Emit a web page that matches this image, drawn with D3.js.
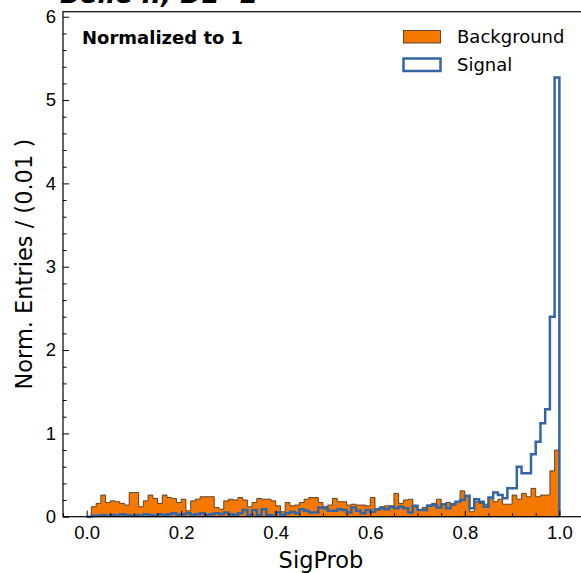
<!DOCTYPE html>
<html>
<head>
<meta charset="utf-8">
<script src="https://cdn.jsdelivr.net/npm/d3@7"></script>
<style>
  body { margin: 0; background: #fff; }
  svg { display: block; font-family: "DejaVu Sans", sans-serif; }
  .axis text { font-size: 18.5px; fill: #000; }
  .axis path, .axis line { stroke: #000; }
</style>
</head>
<body>
<svg id="chart"></svg>
<script>
// histogram bins: 100 bins of width 0.01 on [0, 1]
const binWidth = 0.01;
const background = [
  0.00, 0.12, 0.16, 0.26, 0.17, 0.19, 0.18, 0.16, 0.14, 0.29,
  0.29, 0.12, 0.19, 0.26, 0.22, 0.16, 0.26, 0.23, 0.22, 0.17,
  0.21, 0.07, 0.19, 0.21, 0.24, 0.24, 0.24, 0.11, 0.09, 0.19,
  0.21, 0.20, 0.23, 0.20, 0.12, 0.17, 0.22, 0.21, 0.21, 0.19,
  0.13, 0.06, 0.17, 0.13, 0.14, 0.17, 0.21, 0.23, 0.23, 0.17,
  0.12, 0.14, 0.22, 0.18, 0.18, 0.14, 0.15, 0.14, 0.14, 0.13,
  0.23, 0.08, 0.12, 0.13, 0.13, 0.28, 0.16, 0.20, 0.21, 0.12,
  0.08, 0.11, 0.14, 0.16, 0.21, 0.15, 0.17, 0.14, 0.18, 0.31,
  0.24, 0.06, 0.18, 0.16, 0.15, 0.23, 0.18, 0.21, 0.15, 0.15,
  0.26, 0.21, 0.28, 0.24, 0.34, 0.24, 0.26, 0.26, 0.55, 0.80
];
const signal = [
  0.00, 0.01, 0.01, 0.02, 0.01, 0.02, 0.01, 0.03, 0.02, 0.01,
  0.02, 0.01, 0.03, 0.02, 0.01, 0.03, 0.02, 0.03, 0.04, 0.02,
  0.03, 0.04, 0.02, 0.03, 0.04, 0.02, 0.03, 0.04, 0.03, 0.05,
  0.03, 0.02, 0.04, 0.08, 0.02, 0.08, 0.02, 0.09, 0.02, 0.01,
  0.05, 0.02, 0.04, 0.06, 0.04, 0.09, 0.07, 0.05, 0.05, 0.11,
  0.10, 0.07, 0.07, 0.09, 0.08, 0.05, 0.11, 0.07, 0.04, 0.08,
  0.06, 0.09, 0.10, 0.09, 0.12, 0.10, 0.12, 0.10, 0.05, 0.13,
  0.08, 0.08, 0.13, 0.14, 0.11, 0.15, 0.10, 0.15, 0.18, 0.20,
  0.25, 0.10, 0.21, 0.18, 0.12, 0.23, 0.29, 0.26, 0.22, 0.34,
  0.34, 0.60, 0.52, 0.52, 0.75, 0.90, 1.12, 1.29, 2.40, 5.27
];
const xMajorTicks = [0.0, 0.2, 0.4, 0.6, 0.8, 1.0];
const yMajorTicks = [0, 1, 2, 3, 4, 5, 6];
const legendItems = ['Background', 'Signal'];

const config = {
  width: 581,
  height: 573,
  margin: { top: 11.7, right: -2, bottom: 56.3, left: 63 },
  orange: '#f57900',
  blue: '#3465a4'
};

const innerW = config.width - config.margin.left - config.margin.right;
const innerH = config.height - config.margin.top - config.margin.bottom;

const svg = d3.select('#chart')
  .attr('width', config.width)
  .attr('height', config.height);

const chart = svg.append('g')
  .attr('transform', `translate(${config.margin.left},${config.margin.top})`);

const yMax = d3.max(signal) * 1.15;

const xScale = d3.scaleLinear().domain([-0.05, 1.05]).range([0, innerW]);
const yScale = d3.scaleLinear().domain([0, yMax]).range([innerH, 0]);

// turn bin values into step points
const stepPoints = vals => {
  const pts = [[0, 0]];
  vals.forEach((v, i) => {
    pts.push([i * binWidth, v]);
    pts.push([(i + 1) * binWidth, v]);
  });
  pts.push([vals.length * binWidth, 0]);
  return pts;
};

const area = d3.area()
  .x(d => xScale(d[0]))
  .y0(yScale(0))
  .y1(d => yScale(d[1]));

const line = d3.line()
  .x(d => xScale(d[0]))
  .y(d => yScale(d[1]));

chart.append('path')
  .attr('d', area(stepPoints(background)))
  .attr('fill', config.orange)
  .attr('stroke', '#3a2a1a')
  .attr('stroke-width', 0.8);

chart.append('path')
  .attr('d', line(stepPoints(signal)))
  .attr('fill', 'none')
  .attr('stroke', config.blue)
  .attr('stroke-width', 2.5)
  .attr('stroke-linejoin', 'miter');

// axes, ticks pointing inward
const xAxis = d3.axisBottom(xScale)
  .tickValues(xMajorTicks)
  .tickFormat(d3.format('.1f'))
  .tickSize(-6)
  .tickPadding(9);
const xMinor = d3.axisBottom(xScale)
  .tickValues(d3.range(-0.05, 1.051, 0.05).filter(v => Math.abs(Math.round(v * 5) - v * 5) > 0.01))
  .tickFormat('')
  .tickSize(-3.5);
const yAxis = d3.axisLeft(yScale)
  .tickValues(yMajorTicks)
  .tickFormat(d3.format('d'))
  .tickSize(-6)
  .tickPadding(7);
const yMinor = d3.axisLeft(yScale)
  .tickValues(d3.range(0.2, yMax, 0.2).filter(v => Math.abs(v - Math.round(v)) > 0.01))
  .tickFormat('')
  .tickSize(-3.5);

chart.append('g').attr('class', 'axis')
  .attr('transform', `translate(0,${innerH})`)
  .call(xMinor)
  .call(g => g.select('.domain').remove());
chart.append('g').attr('class', 'axis')
  .attr('transform', `translate(0,${innerH})`)
  .call(xAxis)
  .call(g => g.select('.domain').remove());
chart.append('g').attr('class', 'axis')
  .call(yMinor)
  .call(g => g.select('.domain').remove());
chart.append('g').attr('class', 'axis')
  .call(yAxis)
  .call(g => g.select('.domain').remove());

// frame
chart.append('rect')
  .attr('x', 0).attr('y', 0)
  .attr('width', innerW).attr('height', innerH)
  .attr('fill', 'none')
  .attr('stroke', '#000')
  .attr('stroke-width', 1.2);

// labels
svg.append('text')
  .attr('x', config.margin.left + innerW / 2 - 2)
  .attr('y', 568)
  .attr('text-anchor', 'middle')
  .attr('font-size', 22.5)
  .text('SigProb');

svg.append('text')
  .attr('transform', `translate(32,${config.margin.top + innerH / 2}) rotate(-90)`)
  .attr('text-anchor', 'middle')
  .attr('font-size', 22.5)
  .text('Norm. Entries / (0.01 )');

svg.append('text')
  .attr('x', 60)
  .attr('y', 3)
  .attr('font-size', 26)
  .attr('font-weight', 'bold')
  .attr('font-style', 'italic')
  .text('Belle II, DL=2');

chart.append('text')
  .attr('x', 82 - config.margin.left)
  .attr('y', 44.5 - config.margin.top)
  .attr('font-size', 18)
  .attr('font-weight', 'bold')
  .text('Normalized to 1');

// legend
const legend = svg.append('g').attr('transform', 'translate(403,30)');
legendItems.forEach((name, i) => {
  const g = legend.append('g').attr('transform', `translate(0,${i * 28})`);
  g.append('rect')
    .attr('x', 0.5).attr('y', 0.5)
    .attr('width', 37).attr('height', 12.5)
    .attr('fill', i === 0 ? config.orange : 'none')
    .attr('stroke', i === 0 ? '#3a2a1a' : config.blue)
    .attr('stroke-width', i === 0 ? 0.8 : 2.5);
  g.append('text')
    .attr('x', 54)
    .attr('y', 13)
    .attr('font-size', 18)
    .text(name);
});
</script>
</body>
</html>
